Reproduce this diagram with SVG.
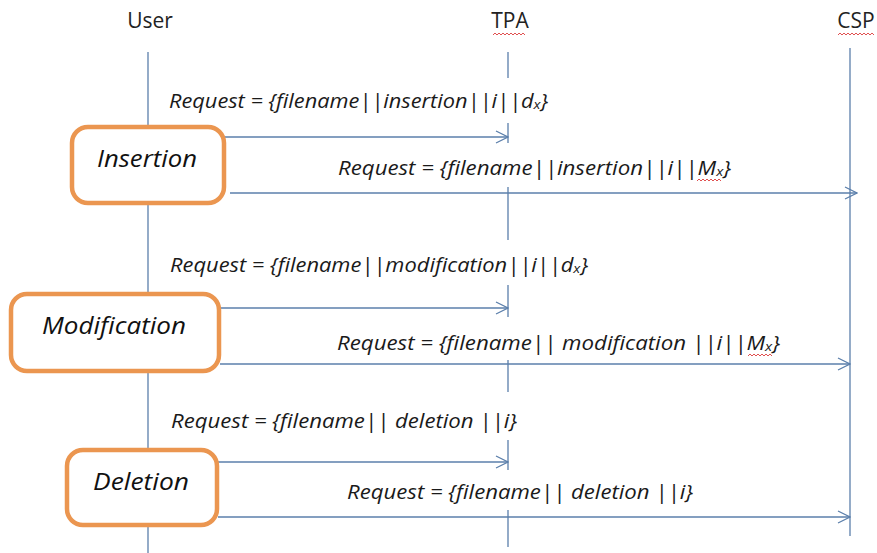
<svg xmlns="http://www.w3.org/2000/svg" width="877" height="553" viewBox="0 0 877 553">
  <defs>
    <marker id="arr" viewBox="0 0 14 14" refX="13" refY="7" markerWidth="14" markerHeight="14" markerUnits="userSpaceOnUse" orient="auto">
      <path d="M1,1 L13,7 L1,13" fill="none" stroke="#5b7fab" stroke-width="1.3"/>
    </marker>
    <style>
      .life { stroke: #5b7fab; stroke-width: 1.3; fill: none; }
      .msg { stroke: #5b7fab; stroke-width: 1.3; fill: none; marker-end: url(#arr); }
      .box { fill: #ffffff; stroke: #eb9650; stroke-width: 4.5; }
      .head { font-family: "Open Sans", "Liberation Sans", sans-serif; font-size: 21px; fill: #222; text-anchor: middle; }
      .boxlbl { font-family: "Open Sans", "Liberation Sans", sans-serif; font-style: italic; font-size: 23px; fill: #111; }
      .lbl { font-family: "Open Sans", "Liberation Sans", sans-serif; font-style: italic; font-size: 19.5px; fill: #1a1a1a; }
      .sub { font-size: 13px; }
      .squig { stroke: #e05050; stroke-width: 1; fill: none; }
    </style>
  </defs>
  <rect width="877" height="553" fill="#ffffff"/>

  <g id="lifelines">
    <line class="life" x1="148" y1="52" x2="148" y2="553"/>
    <path class="life" d="M508,52 V78 M508,123 V143 M508,187 V240 M508,285 V317 M508,360 V392 M508,440 V470 M508,510 V547"/>
    <line class="life" x1="850" y1="48" x2="850" y2="536"/>
  </g>

  <g id="user">
    <text class="head" x="150" y="28">User</text>
  </g>
  <g id="tpa">
    <text class="head" x="510" y="28">TPA</text>
    <path class="squig" d="M493,35 l2,-2 l2,2 l2,-2 l2,2 l2,-2 l2,2 l2,-2 l2,2 l2,-2 l2,2 l2,-2 l2,2 l2,-2 l2,2 l2,-2 l2,2"/>
  </g>
  <g id="csp">
    <text class="head" x="856" y="28">CSP</text>
    <path class="squig" d="M838,35 l2,-2 l2,2 l2,-2 l2,2 l2,-2 l2,2 l2,-2 l2,2 l2,-2 l2,2 l2,-2 l2,2 l2,-2 l2,2 l2,-2 l2,2 l2,-2 l2,2"/>
  </g>

  <g id="connectors">
    <line class="msg" x1="224" y1="137" x2="508" y2="137"/>
    <line class="msg" x1="230" y1="193" x2="857" y2="193"/>
    <line class="msg" x1="220" y1="308" x2="508" y2="308"/>
    <line class="msg" x1="220" y1="364" x2="850" y2="364"/>
    <line class="msg" x1="218" y1="462" x2="508" y2="462"/>
    <line class="msg" x1="218" y1="517" x2="850" y2="517"/>
  </g>

  <g id="labels">
    <text class="lbl" x="169" y="108" textLength="379" lengthAdjust="spacingAndGlyphs">Request = {filename||insertion||i||d<tspan class="sub" dy="1">x</tspan><tspan dy="-1">}</tspan></text>
    <text class="lbl" x="338" y="175" textLength="393" lengthAdjust="spacingAndGlyphs">Request = {filename||insertion||i||M<tspan class="sub" dy="1">x</tspan><tspan dy="-1">}</tspan></text>
    <path class="squig" d="M697,181 l2,-2 l2,2 l2,-2 l2,2 l2,-2 l2,2 l2,-2 l2,2 l2,-2 l2,2 l2,-2 l2,2"/>
    <text class="lbl" x="170" y="272" textLength="418" lengthAdjust="spacingAndGlyphs">Request = {filename||modification||i||d<tspan class="sub" dy="1">x</tspan><tspan dy="-1">}</tspan></text>
    <text class="lbl" x="337" y="350" textLength="443" lengthAdjust="spacingAndGlyphs">Request = {filename|| modification ||i||M<tspan class="sub" dy="1">x</tspan><tspan dy="-1">}</tspan></text>
    <path class="squig" d="M748,356 l2,-2 l2,2 l2,-2 l2,2 l2,-2 l2,2 l2,-2 l2,2 l2,-2 l2,2 l2,-2 l2,2"/>
    <text class="lbl" x="171" y="428" textLength="346" lengthAdjust="spacingAndGlyphs">Request = {filename|| deletion ||i}</text>
    <text class="lbl" x="347" y="499" textLength="346" lengthAdjust="spacingAndGlyphs">Request = {filename|| deletion ||i}</text>
  </g>

  <g id="insertion">
    <rect class="box" x="72" y="127" width="152" height="76" rx="16" ry="16"/>
    <text class="boxlbl" x="97" y="167" textLength="100" lengthAdjust="spacingAndGlyphs">Insertion</text>
  </g>
  <g id="modification">
    <rect class="box" x="11" y="294" width="208" height="77" rx="16" ry="16"/>
    <text class="boxlbl" x="42" y="334" textLength="144" lengthAdjust="spacingAndGlyphs">Modification</text>
  </g>
  <g id="deletion">
    <rect class="box" x="67" y="450" width="150" height="75" rx="16" ry="16"/>
    <text class="boxlbl" x="93" y="490" textLength="96" lengthAdjust="spacingAndGlyphs">Deletion</text>
  </g>
</svg>
